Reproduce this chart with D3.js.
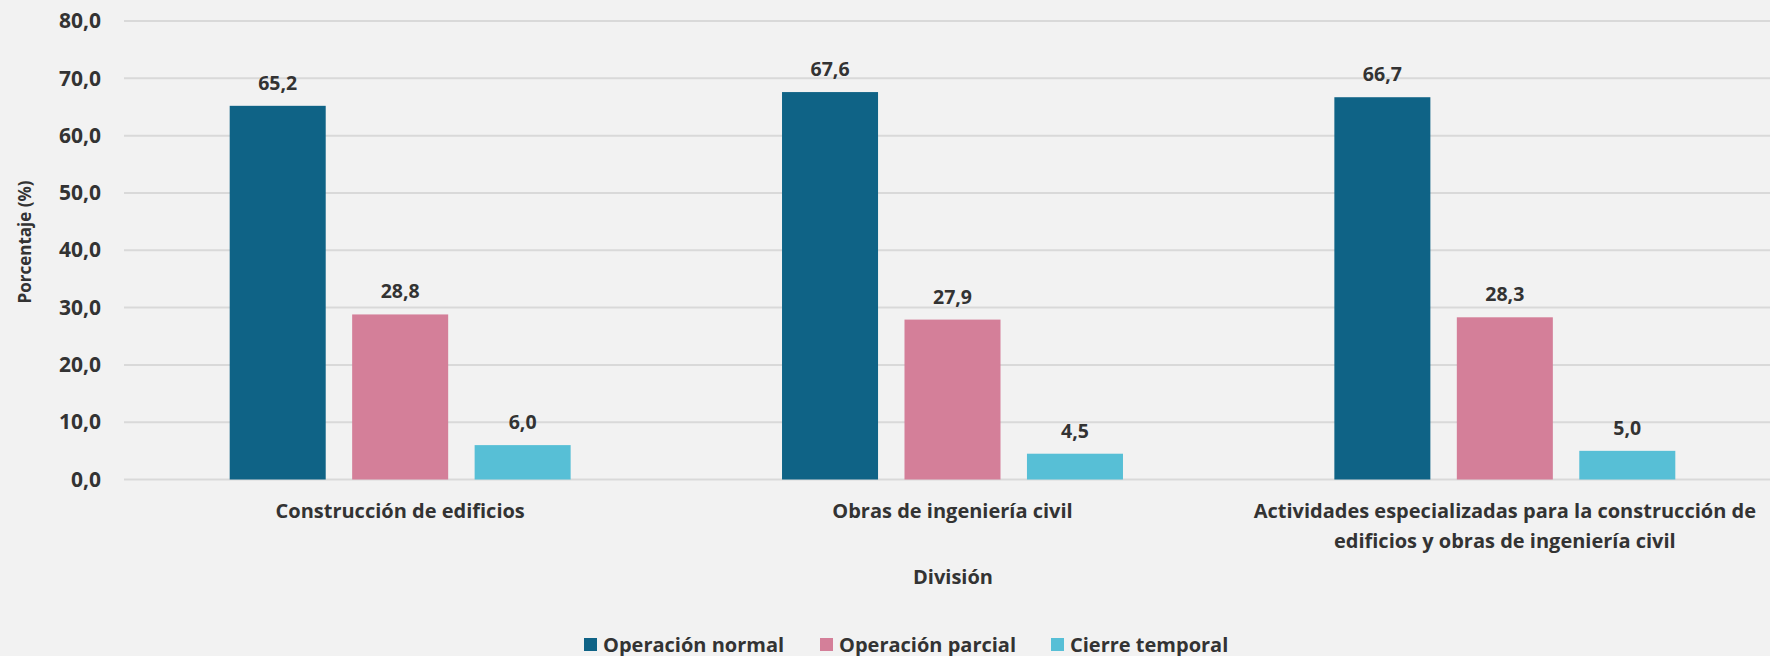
<html>
<head>
    <title>Estado de operación por división</title>
    <script src="https://d3js.org/d3.v7.min.js"></script>
    <style>
        body { margin: 0; background: #f2f2f2; }
        text { font-family: "Open Sans", "Noto Sans", sans-serif; font-weight: 700; fill: #333; }
    </style>
</head>
<body>
    <svg id="chart"></svg>
    <script>
        // data
        var divisiones = [
            ["Construcción de edificios"],
            ["Obras de ingeniería civil"],
            ["Actividades especializadas para la construcción de", "edificios y obras de ingeniería civil"]
        ];
        var series = ["Operación normal", "Operación parcial", "Cierre temporal"];
        var normal = [65.2, 67.6, 66.7];
        var parcial = [28.8, 27.9, 28.3];
        var cierre = [6.0, 4.5, 5.0];
        var yTicks = [0, 10, 20, 30, 40, 50, 60, 70, 80];
        var colors = ["#0f6386", "#d47f99", "#57bfd6"];

        var width = 1770, height = 656;
        var values = [normal, parcial, cierre];
        var fmt = function (v) { return v.toFixed(1).replace(".", ","); };

        var svg = d3.select("#chart").attr("width", width).attr("height", height);

        var x0 = d3.scaleBand().domain(d3.range(divisiones.length)).range([124, 1781]);
        var x1 = d3.scaleBand().domain(d3.range(series.length)).range([0, x0.bandwidth()])
            .paddingInner(0.216).paddingOuter(0.863);
        var y = d3.scaleLinear().domain([0, 80]).range([479.5, 21]);

        // gridlines
        svg.append("g").selectAll("line").data(yTicks).enter().append("line")
            .attr("x1", 124).attr("x2", width)
            .attr("y1", function (d) { return y(d); }).attr("y2", function (d) { return y(d); })
            .attr("stroke", "#d9d9d9").attr("stroke-width", 2);

        // y axis labels
        var yAxis = svg.append("g").attr("transform", "translate(111,0)")
            .call(d3.axisLeft(y).tickValues(yTicks).tickFormat(fmt).tickSize(0).tickPadding(10));
        yAxis.select(".domain").remove();
        yAxis.selectAll("text").style("font-size", "21px").attr("fill", "#333")
            .style("font-family", "'Open Sans', sans-serif").style("font-weight", 700);

        // bars
        var groups = svg.append("g").selectAll("g").data(divisiones).enter().append("g")
            .attr("transform", function (d, i) { return "translate(" + x0(i) + ",0)"; });
        groups.selectAll("rect")
            .data(function (d, i) { return values.map(function (s, j) { return { s: j, v: s[i] }; }); })
            .enter().append("rect")
            .attr("x", function (d) { return x1(d.s); })
            .attr("width", x1.bandwidth())
            .attr("y", function (d) { return y(d.v); })
            .attr("height", function (d) { return y(0) - y(d.v); })
            .attr("fill", function (d) { return colors[d.s]; });
        groups.selectAll("text.val")
            .data(function (d, i) { return values.map(function (s, j) { return { s: j, v: s[i] }; }); })
            .enter().append("text").attr("class", "val")
            .attr("x", function (d) { return x1(d.s) + x1.bandwidth() / 2; })
            .attr("y", function (d) { return y(d.v) - 16; })
            .attr("text-anchor", "middle").style("font-size", "19.5px")
            .text(function (d) { return fmt(d.v); });

        // category labels
        svg.append("g").selectAll("text").data(divisiones).enter().append("text")
            .attr("text-anchor", "middle").style("font-size", "20px")
            .attr("x", function (d, i) { return x0(i) + x0.bandwidth() / 2; })
            .attr("y", 518)
            .selectAll("tspan").data(function (d) { return d; }).enter().append("tspan")
            .attr("x", function () { return d3.select(this.parentNode).attr("x"); })
            .attr("dy", function (d, i) { return i ? 30 : 0; })
            .text(function (d) { return d; });

        // axis titles
        svg.append("text").attr("x", 953).attr("y", 584).attr("text-anchor", "middle")
            .style("font-size", "20px").text("División");
        svg.append("text").attr("transform", "translate(31,242) rotate(-90)")
            .attr("text-anchor", "middle").style("font-size", "17px").text("Porcentaje (%)");

        // legend
        var legX = [584, 820, 1051];
        var leg = svg.append("g").selectAll("g").data(series).enter().append("g")
            .attr("transform", function (d, i) { return "translate(" + legX[i] + ",638)"; });
        leg.append("rect").attr("width", 13).attr("height", 13)
            .attr("fill", function (d, i) { return colors[i]; });
        leg.append("text").attr("x", 19).attr("y", 13.5).style("font-size", "20px")
            .text(function (d) { return d; });
    </script>
</body>
</html>
